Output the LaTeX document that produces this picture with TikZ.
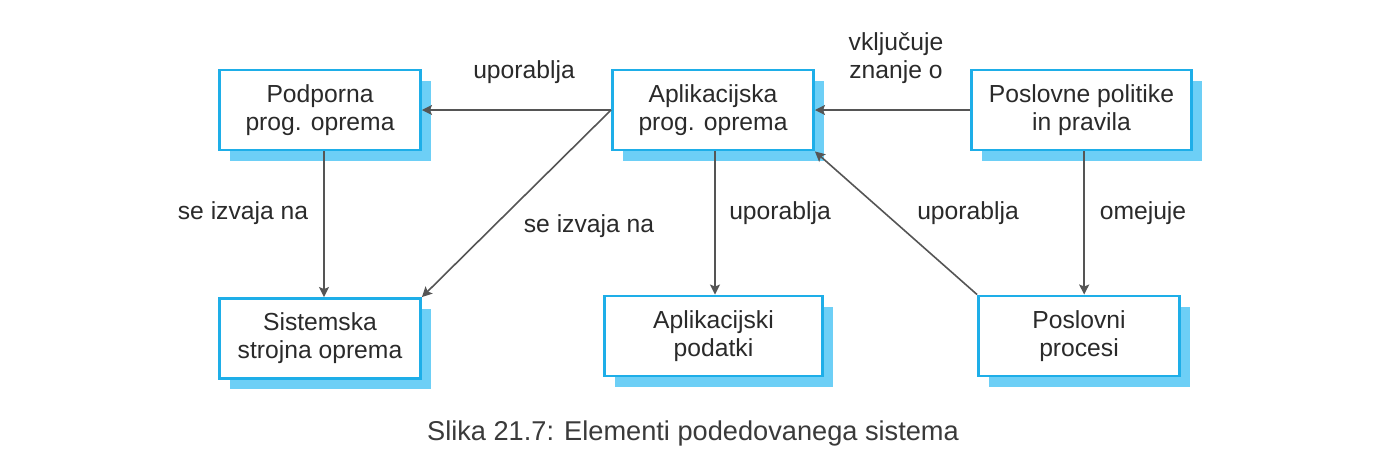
\documentclass[tikz,border=0pt]{standalone}
\usepackage{fontspec}
\setmainfont{Liberation Sans}
\usetikzlibrary{arrows.meta,shadows}
\definecolor{boxblue}{HTML}{1EAEE8}
\definecolor{shadowblue}{HTML}{6DCFF6}
\definecolor{linegray}{HTML}{555555}
\definecolor{txtgray}{HTML}{2A2A2A}
\definecolor{capgray}{HTML}{3A3A3A}
\tikzset{
  elbox/.style={draw=boxblue, line width=2.2pt, fill=white, inner sep=0pt,
    align=center, text=txtgray, minimum height=60pt,
    font=\fontsize{18.5pt}{21pt}\selectfont,
    general shadow={fill=shadowblue, shadow xshift=7.5pt, shadow yshift=-8pt}},
  conn/.style={draw=linegray, line width=1.2pt,
    -{Stealth[length=7.5pt, width=7.5pt, inset=1.5pt]}},
  lbl/.style={text=txtgray, align=center, inner sep=0pt,
    font=\fontsize{18.5pt}{21pt}\selectfont}
}
\begin{document}
\begin{tikzpicture}[x=0.75pt, y=-0.75pt]
\useasboundingbox[fill=white] (0,0) rectangle (1398,455);
% boxes
\node[elbox, minimum width=150.75pt] (A) at (320,110) {Podporna\\prog. oprema};
\node[elbox, minimum width=150.75pt] (B) at (713,110) {Aplikacijska\\prog. oprema};
\node[elbox, minimum width=165pt]    (C) at (1081.5,110) {Poslovne politike\\in pravila};
\node[elbox, minimum width=150.75pt] (D) at (320,338.5) {Sistemska\\strojna oprema};
\node[elbox, minimum width=163.5pt]  (E) at (713.5,336) {Aplikacijski\\podatki};
\node[elbox, minimum width=150.75pt] (F) at (1079,336) {Poslovni\\procesi};
% connectors
\draw[conn] (B.west) -- (A.east);
\draw[conn] (B.west) -- (D.north east);
\draw[conn] (C.west) -- (B.east);
\draw[conn] ([xshift=1.5pt]B.south) -- ([xshift=1.5pt]B.south |- E.north);
\draw[conn] (F.north west) -- (B.south east);
\draw[conn] ([xshift=2pt]C.south) -- ([xshift=2pt]C.south |- F.north);
\draw[conn] ([xshift=3pt]A.south) -- ([xshift=3pt]A.south |- D.north);
% labels
\node[lbl] (l1) at (524,72) {uporablja};
\node[lbl] (l2) at (896,58) {vključuje\\znanje o};
\node[lbl] (l3) at (243,213) {se izvaja na};
\node[lbl] (l4) at (589,226) {se izvaja na};
\node[lbl] (l5) at (780,213) {uporablja};
\node[lbl] (l6) at (968,213) {uporablja};
\node[lbl] (l7) at (1143,213) {omejuje};
% caption
\node[text=capgray, inner sep=0pt, anchor=base, font=\fontsize{20.4pt}{24pt}\selectfont] (cap) at (693,440) {Slika 21.7: Elementi podedovanega sistema};
\end{tikzpicture}
\end{document}
